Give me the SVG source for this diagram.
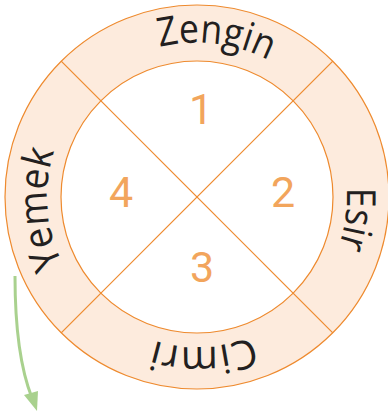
<svg xmlns="http://www.w3.org/2000/svg" xmlns:xlink="http://www.w3.org/1999/xlink" width="388" height="412" viewBox="0 0 388 412">
<style>
.ln{stroke:#EE8A2E;stroke-width:1.2;fill:none}
.lab{font-family:"Open Sans","DejaVu Sans",sans-serif;font-size:40px;fill:#231F20;text-anchor:middle}
.num{font-family:Roboto,"Liberation Sans",sans-serif;font-size:43px;fill:#F2A55C;text-anchor:middle}
</style>
<defs>
<path id="arc" d="M 90.93,90.93 A 150,150 0 0,1 303.07,303.07 A 150,150 0 0,1 90.93,90.93"/>
<path id="arcTop" d="M 87.4,87.4 A 155,155 0 0,1 306.6,306.6 A 155,155 0 0,1 87.4,87.4"/>
</defs>
<g id="ring">
<circle cx="197" cy="197" r="192" class="ln" style="fill:#FDEBDD"/>
<circle cx="197" cy="197" r="136" class="ln" style="fill:#FFFFFF"/>
</g>
<g id="dividers">
<line x1="61.2" y1="61.2" x2="332.8" y2="332.8" class="ln"/>
<line x1="332.8" y1="61.2" x2="61.2" y2="332.8" class="ln"/>
</g>
<g id="zengin"><text class="lab"><textPath xlink:href="#arcTop" href="#arcTop" startOffset="14.4%" textLength="112" lengthAdjust="spacingAndGlyphs">Zengin</textPath></text></g>
<g id="esir"><text class="lab"><textPath xlink:href="#arc" href="#arc" startOffset="39.7%" textLength="60" lengthAdjust="spacingAndGlyphs">Esir</textPath></text></g>
<g id="cimri"><text class="lab"><textPath xlink:href="#arc" href="#arc" startOffset="61.8%" textLength="100" lengthAdjust="spacing">Cimri</textPath></text></g>
<g id="yemek"><text class="lab"><textPath xlink:href="#arc" href="#arc" startOffset="86.3%" textLength="116" lengthAdjust="spacingAndGlyphs">Yemek</textPath></text></g>
<g id="n1"><text class="num" x="201" y="124">1</text></g>
<g id="n2"><text class="num" x="283" y="207">2</text></g>
<g id="n3"><text class="num" x="202" y="282">3</text></g>
<g id="n4"><text class="num" x="121" y="207">4</text></g>
<g id="connectors">
<path d="M15,276 Q15,355 32,398" stroke="#A9D18E" stroke-width="3" fill="none"/>
<polygon points="24,395 38,391 37,411" fill="#A9D18E"/>
</g>
</svg>
